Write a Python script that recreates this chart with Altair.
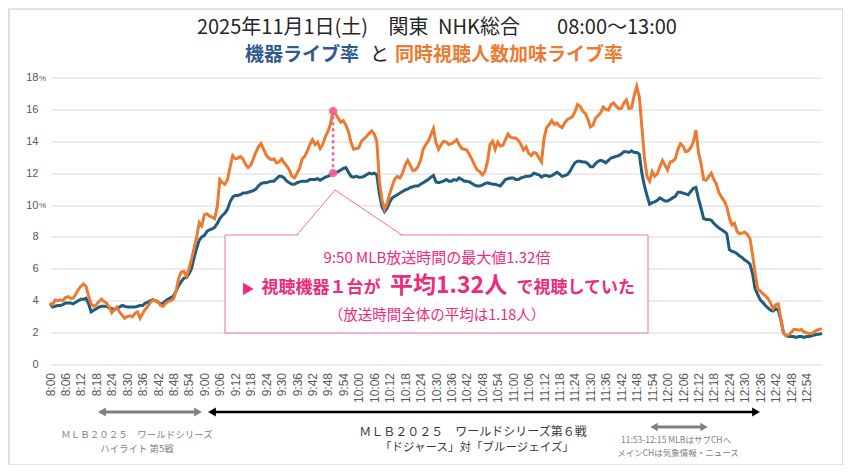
import altair as alt
import pandas as pd

JP = "Noto Sans CJK JP"
PINK = "#ee2a7b"
PINK_LINE = "#f06ea3"
MARK_PINK = "#f0609a"
BLUE = "#1f5c7e"
ORANGE = "#ec7a30"

minutes = list(range(301))  # 8:00 .. 13:00, one point per minute

device_rate = [
    3.84, 3.6, 3.65, 3.7, 3.7, 3.75, 3.85, 3.85, 3.85, 3.8,
    3.9, 4.0, 4.1, 4.1, 4.15, 3.8, 3.3, 3.4, 3.5, 3.6,
    3.65, 3.65, 3.65, 3.55, 3.5, 3.45, 3.55, 3.6, 3.7, 3.65,
    3.6, 3.6, 3.6, 3.6, 3.65, 3.7, 3.7, 3.85, 3.9, 4.0,
    4.05, 4.0, 3.9, 3.8, 3.85, 4.0, 4.1, 4.2, 4.3, 4.6,
    4.95, 5.2, 5.4, 5.45, 5.7, 6.0, 6.7, 7.3, 7.8, 8.0,
    8.1, 8.35, 8.45, 8.5, 8.6, 8.85, 9.15, 9.35, 9.5, 9.75,
    10.2, 10.5, 10.6, 10.6, 10.65, 10.75, 10.75, 10.8, 10.85, 10.9,
    11.0, 11.2, 11.35, 11.4, 11.4, 11.45, 11.5, 11.5, 11.65, 11.8,
    11.8, 11.7, 11.5, 11.4, 11.3, 11.3, 11.4, 11.45, 11.5, 11.5,
    11.5, 11.6, 11.6, 11.6, 11.65, 11.55, 11.65, 11.75, 11.8, 11.9,
    12.0, 12.05, 12.1, 12.2, 12.3, 12.35, 12.05, 11.8, 11.75, 11.8,
    11.75, 11.75, 11.8, 11.9, 12.0, 11.95, 12.0, 11.9, 10.7, 9.9,
    9.6, 9.8, 10.2, 10.45, 10.55, 10.65, 10.75, 10.85, 10.95, 11.0,
    11.1, 11.15, 11.2, 11.2, 11.3, 11.4, 11.5, 11.6, 11.75, 11.85,
    11.45, 11.4, 11.45, 11.5, 11.6, 11.5, 11.5, 11.6, 11.55, 11.7,
    11.6, 11.5, 11.5, 11.45, 11.35, 11.25, 11.2, 11.2, 11.25, 11.35,
    11.4, 11.35, 11.3, 11.3, 11.25, 11.2, 11.4, 11.6, 11.65, 11.7,
    11.7, 11.6, 11.6, 11.7, 11.75, 11.8, 11.8, 11.85, 12.0, 11.95,
    11.9, 11.75, 11.85, 11.85, 11.8, 11.85, 11.95, 12.05, 11.95, 11.8,
    11.85, 11.9, 12.1, 12.4, 12.65, 12.75, 12.75, 12.7, 12.7, 12.6,
    12.4, 12.4, 12.6, 12.75, 12.8, 12.75, 12.65, 12.8, 12.95, 13.0,
    13.05, 13.1, 13.2, 13.35, 13.35, 13.3, 13.4, 13.3, 13.3, 13.2,
    12.0, 11.2, 10.6, 10.05, 10.15, 10.2, 10.3, 10.45, 10.35, 10.25,
    10.25, 10.35, 10.45, 10.55, 10.8, 10.8, 10.75, 10.7, 10.65, 10.85,
    11.05, 11.1, 10.4, 9.8, 9.15, 9.1, 9.1, 9.05, 8.85, 8.7,
    8.55, 8.45, 8.35, 8.2, 7.2, 7.1, 7.05, 6.95, 6.8, 6.7,
    6.55, 6.45, 6.3, 5.7, 4.75, 4.4, 4.05, 3.9, 3.7, 3.55,
    3.4, 3.35, 3.5, 3.4, 2.8, 2.0, 1.8, 1.75, 1.75, 1.75,
    1.7, 1.75, 1.75, 1.7, 1.75, 1.75, 1.8, 1.85, 1.9, 1.9, 1.95,
]

weighted_rate = [
    3.85, 3.75, 4.05, 4.0, 4.05, 4.0, 4.2, 4.25, 4.15, 4.15,
    4.4, 4.7, 4.9, 5.05, 4.9, 4.3, 3.8, 3.65, 3.75, 3.95,
    4.1, 3.95, 3.85, 3.6, 3.25, 3.45, 3.6, 3.3, 3.1, 2.9,
    3.0, 3.05, 3.0, 3.2, 3.3, 2.9, 3.2, 3.45, 3.65, 3.9,
    4.05, 4.0, 3.95, 3.7, 3.65, 3.85, 3.95, 4.0, 4.1, 4.6,
    5.4, 5.8, 5.85, 5.55, 6.0, 6.6, 7.3, 8.0, 8.9, 8.7,
    9.4, 9.45, 9.3, 9.25, 9.15, 9.9, 11.6, 11.4, 11.3, 11.6,
    12.4, 13.1, 12.9, 12.95, 13.05, 12.9, 12.55, 12.35, 12.5, 12.9,
    13.3, 13.65, 13.85, 13.5, 13.15, 12.95, 12.85, 12.9, 12.65, 12.7,
    12.9, 12.65, 12.45, 12.2, 11.8, 11.7, 12.0, 12.3, 12.9, 13.05,
    13.4, 13.8, 14.1, 13.8, 13.95, 13.55, 13.8, 14.3, 14.6, 15.1,
    15.9, 15.7, 15.45, 15.2, 15.3, 15.0, 14.6, 13.9, 13.5, 13.55,
    13.6, 14.0, 14.15, 14.3, 14.5, 14.65, 14.45, 14.0, 11.5, 10.3,
    9.75, 10.1, 10.7, 11.2, 11.65, 11.8, 11.7, 12.0, 12.5, 12.8,
    12.5, 12.15, 12.2, 12.4, 12.8, 13.5, 13.8, 14.0, 14.4, 14.8,
    13.9, 13.5, 13.8, 14.0, 13.95, 13.8, 13.85, 13.95, 14.1, 13.8,
    13.55, 13.5, 13.45, 13.15, 12.85, 12.5, 12.2, 12.1, 11.9, 12.1,
    12.7, 13.8, 14.0, 13.5, 13.95, 13.7, 13.75, 14.1, 14.45, 14.25,
    14.2, 14.2, 14.05, 13.8, 13.45, 13.65, 13.25, 13.1, 13.3, 13.25,
    12.95, 12.7, 14.2, 14.85, 15.05, 15.3, 15.05, 15.15, 14.95, 14.85,
    15.15, 15.35, 15.45, 15.55, 15.85, 16.3, 16.2, 15.9, 15.75, 15.4,
    14.9, 15.0, 15.45, 15.6, 15.8, 16.15, 16.0, 15.95, 16.3, 16.4,
    16.2, 16.05, 16.05, 16.4, 16.6, 16.05, 16.1, 16.85, 17.45, 16.8,
    14.9, 12.95, 11.8, 11.5, 12.1, 11.8, 11.95, 12.4, 12.8, 12.5,
    12.2, 12.7, 12.75, 12.9, 13.5, 13.85, 13.7, 13.35, 13.4, 13.6,
    13.95, 14.7, 13.3, 12.6, 11.6, 11.55, 11.8, 12.0, 11.6, 11.3,
    10.75, 10.5, 10.25, 9.9, 9.2, 8.75, 8.85, 8.35, 8.2, 8.25,
    8.3, 8.15, 7.9, 6.9, 5.75, 4.75, 4.6, 4.45, 4.3, 4.15,
    3.85, 3.5, 3.75, 3.8, 2.9, 2.0, 1.8, 1.85, 2.0, 2.2,
    2.2, 2.15, 2.2, 2.05, 2.0, 1.95, 1.95, 2.05, 2.15, 2.2, 2.25,
]

x_tick_values = list(range(0, 295, 6))          # 8:00 ... 12:54
y_tick_values = [0, 2, 4, 6, 8, 10, 12, 14, 16, 18]
percent_ticks = [18, 10]

peak_minute = [110]     # 9:50
peak_device = [12.0]
peak_weighted = [15.9]

df = pd.DataFrame({"minute": minutes, "device": device_rate, "weighted": weighted_rate})
peak_df = pd.DataFrame({"minute": peak_minute, "low": peak_device, "high": peak_weighted})
peak_pts = pd.DataFrame({"minute": peak_minute * 2, "rate": peak_device + peak_weighted})
pct_df = pd.DataFrame({"rate": percent_ticks})
one = pd.DataFrame({"k": [0]})

x_scale = alt.Scale(domain=[0, 300], nice=False, zero=False)
y_scale = alt.Scale(domain=[0, 18], nice=False)

x_axis = alt.Axis(
    values=x_tick_values,
    labelExpr="floor(8 + datum.value / 60) + ':' + (datum.value % 60 < 10 ? '0' : '') + (datum.value % 60)",
    labelAngle=-90, grid=False, domain=False, ticks=False, labelFontSize=12,
    labelColor="#595959", labelPadding=8, title=None, labelFont="Liberation Sans",
    labelOverlap=False, labelFlush=False,
)
y_axis = alt.Axis(
    values=y_tick_values, grid=True, gridColor="#d9d9d9", gridWidth=1, domain=False,
    ticks=False, labelFontSize=11, labelColor="#595959", labelPadding=12, title=None,
    labelFont="Liberation Sans",
)


def X(field):
    return alt.X(field, scale=x_scale, axis=x_axis)


def Y(field):
    return alt.Y(field, scale=y_scale, axis=y_axis)


def txt(text, x, y, size, color, weight="normal", align="center", baseline="middle", font=JP):
    return alt.Chart(one).mark_text(
        text=text, fontSize=size, color=color, fontWeight=weight, align=align,
        baseline=baseline, font=font,
    ).encode(x=alt.value(x), y=alt.value(y))


def seg(x1, y1, x2, y2, color, width, dash=None):
    kw = dict(color=color, strokeWidth=width)
    if dash:
        kw["strokeDash"] = dash
    return alt.Chart(one).mark_rule(**kw).encode(
        x=alt.value(x1), y=alt.value(y1), x2=alt.value(x2), y2=alt.value(y2))


def head(x, y, shape, color, size):
    return alt.Chart(one).mark_point(shape=shape, filled=True, color=color, opacity=1, size=size).encode(
        x=alt.value(x), y=alt.value(y))


border = alt.Chart(one).mark_rect(fill="transparent", fillOpacity=0, stroke="#c8c8c8", strokeWidth=1.2).encode(
    x=alt.value(-41), x2=alt.value(793), y=alt.value(-68.5), y2=alt.value(387.5))

line_blue = alt.Chart(df).mark_line(color=BLUE, strokeWidth=3).encode(x=X("minute:Q"), y=Y("device:Q"))
line_orange = alt.Chart(df).mark_line(color=ORANGE, strokeWidth=3).encode(x=X("minute:Q"), y=Y("weighted:Q"))

peak_rule = alt.Chart(peak_df).mark_rule(color=MARK_PINK, strokeWidth=2.5, strokeDash=[3, 3]).encode(
    x=X("minute:Q"), y=Y("low:Q"), y2="high:Q")
peak_points = alt.Chart(peak_pts).mark_circle(size=70, color=MARK_PINK, opacity=0.9).encode(
    x=X("minute:Q"), y=Y("rate:Q"))

pct = alt.Chart(pct_df).mark_text(text="%", align="left", baseline="middle", fontSize=8,
                                  color="#595959", font="Liberation Sans", dy=1).encode(
    x=alt.value(-11), y=Y("rate:Q"))

# callout box
box = alt.Chart(one).mark_rect(fill="white", stroke=PINK_LINE, strokeWidth=1).encode(
    x=alt.value(175), x2=alt.value(598), y=alt.value(157.5), y2=alt.value(255.5))
pointer_fill = alt.Chart(one).mark_point(
    shape="M -1 0.03 L -0.276 -0.857 L 1 0.03 Z", filled=True, color="white", opacity=1,
    size=105 * 105, strokeWidth=0).encode(x=alt.value(299.5), y=alt.value(157.5))
pointer_l = seg(247, 157.5, 285, 112.5, PINK_LINE, 1)
pointer_r = seg(285, 112.5, 352, 157.5, PINK_LINE, 1)

TITLE_Y = -50
layers = [
    border, line_blue, line_orange, peak_rule, peak_points, pct,
    box, pointer_fill, pointer_l, pointer_r,
    # titles
    txt("2025年11月1日(土)", 232.5, TITLE_Y, 20, "#262626"),
    txt("関東", 358.5, TITLE_Y, 20, "#262626"),
    txt("NHK総合", 429, TITLE_Y, 20, "#262626"),
    txt("08:00～13:00", 567, TITLE_Y, 20, "#262626"),
    txt("機器ライブ率", 195, -23, 19, "#2e5a8e", "bold", "left"),
    txt("と", 320, -23, 19, "#262626", "normal", "left"),
    txt("同時視聴人数加味ライブ率", 345, -23, 19, ORANGE, "bold", "left"),
    # callout text
    txt("9:50 MLB放送時間の最大値1.32倍", 387, 180.5, 15, PINK),
    txt("▶", 191.5, 215.5, 13, PINK, "bold", "left", "alphabetic"),
    txt("視聴機器１台が", 211.5, 215.5, 17, PINK, "bold", "left", "alphabetic"),
    txt("平均1.32人", 340, 215.5, 23, PINK, "bold", "left", "alphabetic"),
    txt("で視聴していた", 466.5, 215.5, 17, PINK, "bold", "left", "alphabetic"),
    txt("（放送時間全体の平均は1.18人）", 387, 238.5, 14.5, PINK),
    # bottom arrows
    seg(52, 334.5, 148, 334.5, "#808080", 3),
    head(52, 334.5, "triangle-left", "#808080", 80),
    head(148, 334.5, "triangle-right", "#808080", 80),
    seg(162, 334.5, 706, 334.5, "#000000", 2.5),
    head(162, 334.5, "triangle-left", "#000000", 80),
    head(706, 334.5, "triangle-right", "#000000", 80),
    seg(604, 349.5, 654, 349.5, "#808080", 3),
    head(604, 349.5, "triangle-left", "#808080", 70),
    head(654, 349.5, "triangle-right", "#808080", 70),
    # bottom texts
    txt("ＭＬＢ２０２５　ワールドシリーズ", 87, 357.5, 9.5, "#7f7f7f"),
    txt("ハイライト 第5戦", 87, 371.5, 9.5, "#7f7f7f"),
    txt("ＭＬＢ２０２５　ワールドシリーズ第６戦", 423, 354, 12, "#3a3a3a"),
    txt("「ドジャース」対「ブルージェイズ」", 427, 370, 11.5, "#3a3a3a"),
    txt("11:53-12:15 MLBはサブCHへ", 626, 362.5, 8.5, "#7f7f7f"),
    txt("メインCHは気象情報・ニュース", 628, 375, 8.5, "#7f7f7f"),
]

chart = alt.layer(*layers).properties(
    width=772, height=287,
    padding={"left": 42, "top": 69.5, "right": 21, "bottom": 100},
    autosize=alt.AutoSizeParams(type="none"),
    background="white",
).configure_view(stroke=None)

chart.save("out.html", embed_options={"renderer": "svg", "actions": False})
